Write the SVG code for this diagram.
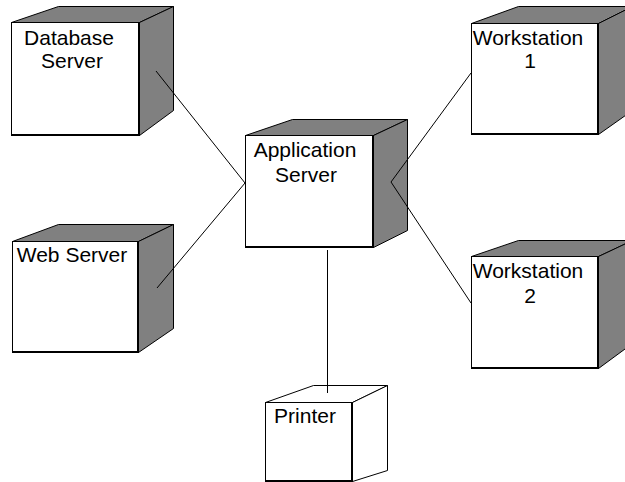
<svg xmlns="http://www.w3.org/2000/svg" width="625" height="482" viewBox="0 0 625 482">
  <style>
    .face { fill: #808080; stroke: #000; stroke-width: 1; stroke-linejoin: miter; }
    .face-w { fill: #fff; stroke: #000; stroke-width: 1; }
    .front { fill: #fff; stroke: #000; stroke-width: 1; }
    .edge { fill: none; stroke: #000; stroke-width: 2; }
    .lbl { font-family: "Liberation Sans", Arial, sans-serif; font-size: 21px; fill: #000; text-anchor: middle; }
    .link { stroke: #000; stroke-width: 1; fill: none; }
  </style>
  <rect width="625" height="482" fill="#fff"/>

  <!-- Database Server -->
  <g id="database-server">
    <polygon class="face" points="11.5,22.5 58.5,6.5 173.5,6.5 139.5,22.5"/>
    <polygon class="face" points="139.5,22.5 173.5,6.5 173.5,110.5 139.5,135.5"/>
    <rect class="front" x="11.5" y="22.5" width="128" height="113"/>
    <polyline class="edge" points="139,22 139,135 11,135"/>
    <text class="lbl" x="69" y="45">Database</text>
    <text class="lbl" x="72" y="68">Server</text>
  </g>

  <!-- Web Server -->
  <g id="web-server">
    <polygon class="face" points="12.5,241.5 58.5,224.5 173.5,224.5 138.5,241.5"/>
    <polygon class="face" points="138.5,241.5 173.5,224.5 173.5,328.5 138.5,352.5"/>
    <rect class="front" x="12.5" y="241.5" width="126" height="111"/>
    <polyline class="edge" points="138,241 138,352 12,352"/>
    <text class="lbl" x="72" y="262">Web Server</text>
  </g>

  <!-- Application Server -->
  <g id="application-server">
    <polygon class="face" points="245.5,135.5 292.5,119.5 407.5,119.5 373.5,135.5"/>
    <polygon class="face" points="373.5,135.5 407.5,119.5 407.5,230.5 373.5,247.5"/>
    <rect class="front" x="245.5" y="135.5" width="128" height="112"/>
    <polyline class="edge" points="373,135 373,247 245,247"/>
    <text class="lbl" x="305" y="157">Application</text>
    <text class="lbl" x="306" y="182">Server</text>
  </g>

  <!-- Workstation 1 -->
  <g id="workstation-1">
    <polygon class="face" points="471.5,23.5 518.5,6.5 632.5,6.5 598.5,23.5"/>
    <polygon class="face" points="598.5,23.5 632.5,6.5 632.5,110.5 598.5,134.5"/>
    <rect class="front" x="471.5" y="23.5" width="127" height="111"/>
    <polyline class="edge" points="598,23 598,134 471,134"/>
    <text class="lbl" x="528" y="45">Workstation</text>
    <text class="lbl" x="530" y="68">1</text>
  </g>

  <!-- Workstation 2 -->
  <g id="workstation-2">
    <polygon class="face" points="471.5,256.5 518.5,240.5 632.5,240.5 598.5,256.5"/>
    <polygon class="face" points="598.5,256.5 632.5,240.5 632.5,343.5 598.5,368.5"/>
    <rect class="front" x="471.5" y="256.5" width="127" height="112"/>
    <polyline class="edge" points="598,256 598,368 471,368"/>
    <text class="lbl" x="528" y="278">Workstation</text>
    <text class="lbl" x="530" y="303">2</text>
  </g>

  <!-- Printer -->
  <g id="printer">
    <polygon class="face-w" points="265.5,402.5 313.5,385.5 387.5,385.5 352.5,402.5"/>
    <polygon class="face-w" points="352.5,402.5 387.5,385.5 387.5,470.5 352.5,481.5"/>
    <rect class="front" x="265.5" y="402.5" width="87" height="79"/>
    <polyline class="edge" points="352,402 352,481 265,481"/>
    <text class="lbl" x="305" y="423">Printer</text>
  </g>

  <!-- connectors, drawn over the node faces -->
  <g id="connectors">
    <line class="link" x1="156" y1="71" x2="245" y2="183"/>
    <line class="link" x1="157" y1="288" x2="245" y2="183"/>
    <line class="link" x1="471" y1="73" x2="391" y2="182"/>
    <line class="link" x1="391" y1="182" x2="471" y2="303"/>
    <line class="link" x1="327.5" y1="250" x2="327.5" y2="393"/>
  </g>
</svg>
